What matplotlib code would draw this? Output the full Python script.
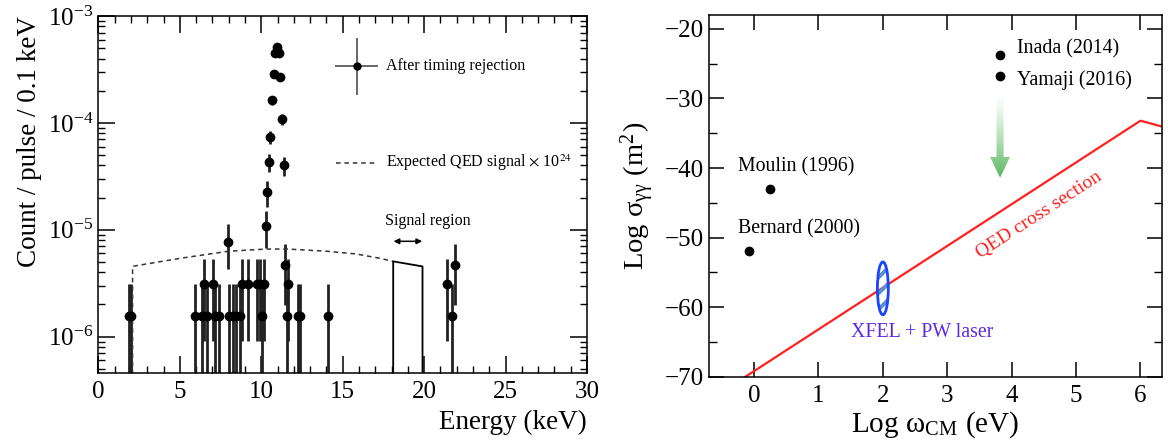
"""Two-panel figure: energy spectrum after timing rejection and photon-photon cross section summary."""
import numpy as np
import matplotlib
matplotlib.use("Agg")
import matplotlib.pyplot as plt
from matplotlib.patches import Ellipse, Polygon
from matplotlib.ticker import LogLocator, MultipleLocator, NullFormatter

plt.rcParams['font.family'] = ['Liberation Serif', 'DejaVu Serif']
plt.rcParams['mathtext.fontset'] = 'stix'
plt.rcParams['axes.linewidth'] = 1.1

# ---------------- left panel data ----------------
UNIT = 1.55e-6  # one count / pulse / 0.1 keV

low_energy = [1.90, 2.00, 5.96, 6.36, 6.69, 7.17, 7.41, 8.04, 8.25, 8.48, 8.70,
              10.04, 11.58, 12.24, 12.38, 14.12, 21.73,
              6.48, 7.06, 8.84, 9.19, 9.74, 9.95, 10.17, 11.67, 21.43,
              11.45, 21.87,
              7.98]
low_counts = [1, 1, 1, 1, 1, 1, 1, 1, 1, 1, 1,
              1, 1, 1, 1, 1, 1,
              2, 2, 2, 2, 2, 2, 2, 2, 2,
              3, 3,
              5]

peak_energy = [10.29, 10.37, 10.47, 10.55, 10.66, 10.76, 10.82, 10.96, 11.10, 11.17, 11.27, 11.37]
peak_value = [1.09e-5, 2.24e-5, 4.30e-5, 7.36e-5, 1.62e-4, 2.87e-4, 4.49e-4, 5.17e-4,
              4.49e-4, 2.69e-4, 1.09e-4, 4.0e-5]

# expected QED signal (x 1e24): dashed outside, solid inside the signal region
qed_energy = [2.1, 2.1, 5.0, 8.0, 10.3, 11.6, 14.0, 15.85, 17.3, 18.1]
qed_value = [1e-8, 4.55e-6, 5.4e-6, 6.3e-6, 6.6e-6, 6.6e-6, 6.3e-6, 5.93e-6, 5.4e-6, 5.06e-6]
sig_energy = [18.1, 18.1, 19.9, 19.9]
sig_value = [1e-8, 5.06e-6, 4.54e-6, 1e-8]

# ---------------- right panel data ----------------
meas_names = ["Moulin (1996)", "Bernard (2000)", "Inada (2014)", "Yamaji (2016)"]
meas_x = [0.25, -0.08, 3.82, 3.82]
meas_y = [-43.0, -51.9, -23.7, -26.7]

qed_logw = [-0.2, 6.0, 6.4]
qed_logsig = [-70.4, -33.2, -34.2]

xfel_center = (2.0, -57.3)
xfel_size = (0.17, 7.6)


def style_ticks(ax):
    ax.tick_params(which='both', direction='in', top=True, right=True)
    ax.tick_params(which='major', length=10, width=1.1)
    ax.tick_params(which='minor', length=5, width=1.0)


def main():
    fig = plt.figure(figsize=(11.68, 4.41), dpi=100)
    ax1 = fig.add_axes([0.0842, 0.1549, 0.4184, 0.8088])
    ax2 = fig.add_axes([0.607, 0.1458, 0.3876, 0.8202])

    # ---- left: spectrum ----
    vals = np.array(low_counts) * UNIT
    errs = np.sqrt(np.array(low_counts)) * UNIT
    lo = np.minimum(errs, vals * 0.9999)
    ax1.errorbar(low_energy, vals, yerr=[lo, errs], fmt='o', color='black',
                 ecolor='#222222', elinewidth=2.0, markersize=6, capsize=0)
    pv = np.array(peak_value)
    perr = np.sqrt(pv / UNIT) * UNIT
    ax1.errorbar(peak_energy, pv, yerr=perr, fmt='o', color='black',
                 ecolor='#222222', elinewidth=2.0, markersize=6, capsize=0)

    ax1.plot(qed_energy, qed_value, ls=(0, (3, 2.5)), color='#333333', lw=1.1)
    ax1.plot(sig_energy, sig_value, color='black', lw=1.3)

    ax1.annotate('', xy=(17.95, 7.8e-6), xytext=(20.05, 7.8e-6),
                 arrowprops=dict(arrowstyle='<|-|>', color='black', lw=1.1,
                                 mutation_scale=8))
    ax1.text(20.2, 1.2e-5, "Signal region", ha='center', va='center', fontsize=11.5)

    ax1.set_yscale('log')
    ax1.set_xlim(0, 30)
    ax1.set_ylim(4.6e-7, 1e-3)
    ax1.xaxis.set_major_locator(MultipleLocator(5))
    ax1.xaxis.set_minor_locator(MultipleLocator(1))
    ax1.yaxis.set_major_locator(LogLocator(base=10, numticks=10))
    ax1.yaxis.set_minor_locator(LogLocator(base=10, subs=np.arange(2, 10), numticks=20))
    ax1.yaxis.set_minor_formatter(NullFormatter())
    style_ticks(ax1)
    ax1.tick_params(which='major', labelsize=18, length=12)
    ax1.tick_params(axis='x', which='major', pad=6)
    ax1.set_xlabel("Energy (keV)", fontsize=19.5, loc='right', labelpad=5)
    ax1.set_ylabel("Count / pulse / 0.1 keV", fontsize=19.5, loc='top', labelpad=4)

    # legend drawn by hand, ROOT-like
    tr = ax1.transAxes
    ax1.plot([0.487, 0.571], [0.860, 0.860], color='#666666', lw=1.4, transform=tr)
    ax1.plot([0.529, 0.529], [0.781, 0.936], color='#666666', lw=1.4, transform=tr)
    ax1.plot([0.529], [0.860], 'o', color='black', markersize=5, transform=tr)
    ax1.text(0.589, 0.860, "After timing rejection", transform=tr, fontsize=11.5, va='center')
    ax1.plot([0.487, 0.571], [0.589, 0.589], ls=(0, (3, 2.5)), color='#333333', lw=1.1, transform=tr)
    ax1.text(0.589, 0.589, r"Expected QED signal $\times$ 10$^{24}$", transform=tr,
             fontsize=11.5, va='center')

    # ---- right: cross section ----
    ax2.set_xlim(-0.7, 6.33)
    ax2.set_ylim(-70, -18)

    ax2.plot(qed_logw, qed_logsig, color='#ff2020', lw=1.6)
    ax2.text(4.42, -46.7, "QED cross section", color='#ff2020', fontsize=14,
             rotation=33, ha='center', va='center')

    ax2.plot(meas_x, meas_y, 'o', color='black', markersize=6)
    ax2.text(-0.25, -39.9, meas_names[0], fontsize=14.3, va='center')
    ax2.text(-0.25, -48.8, meas_names[1], fontsize=14.3, va='center')
    ax2.text(4.08, -22.9, meas_names[2], fontsize=14.3, va='center')
    ax2.text(4.08, -27.3, meas_names[3], fontsize=14.3, va='center')

    # hatched XFEL ellipse: stripes clipped to the ellipse, then the outline
    clip = Ellipse(xfel_center, width=xfel_size[0], height=xfel_size[1],
                   facecolor='none', edgecolor='none')
    ax2.add_patch(clip)
    cx, cy = xfel_center
    for y0 in np.arange(cy - 7.0, cy + 7.5, 2.3):
        ln, = ax2.plot([cx - 0.2, cx + 0.2], [y0 - 1.85, y0 + 1.85],
                       color='#5b8fd0', lw=2.8, solid_capstyle='butt', zorder=2.5)
        ln.set_clip_path(clip)
    ax2.add_patch(Ellipse(xfel_center, width=xfel_size[0], height=xfel_size[1],
                          facecolor='none', edgecolor='#1a44ff', lw=2.0, zorder=3))
    ax2.text(2.61, -63.7, "XFEL + PW laser", color='#5a2ae6', fontsize=14.3,
             ha='center', va='center')

    # green gradient arrow pointing down
    ax_, hw, sw = 3.82, 0.155, 0.055
    top, base, tip = -29.2, -38.4, -41.4
    arrow = Polygon([(ax_ - sw, top), (ax_ + sw, top), (ax_ + sw, base), (ax_ + hw, base),
                     (ax_, tip), (ax_ - hw, base), (ax_ - sw, base)],
                    closed=True, transform=ax2.transData, facecolor='none', edgecolor='none')
    ax2.add_patch(arrow)
    grad = np.zeros((120, 1, 4))
    grad[:, 0, 0] = 0.30
    grad[:, 0, 1] = 0.70
    grad[:, 0, 2] = 0.32
    grad[:, 0, 3] = np.linspace(0.0, 0.95, 120) ** 1.3
    im = ax2.imshow(grad, extent=[ax_ - hw, ax_ + hw, tip, top], origin='upper',
                    aspect='auto', interpolation='bilinear', zorder=3)
    im.set_clip_path(arrow)
    ax2.set_xlim(-0.7, 6.33)
    ax2.set_ylim(-70, -18)
    ax2.set_aspect('auto')

    ax2.xaxis.set_major_locator(MultipleLocator(1))
    ax2.yaxis.set_major_locator(MultipleLocator(10))
    ax2.yaxis.set_minor_locator(MultipleLocator(5))
    style_ticks(ax2)
    ax2.tick_params(which='major', labelsize=18, length=11)
    ax2.tick_params(which='minor', length=6)
    ax2.tick_params(axis='x', which='major', pad=6)
    ax2.set_xlabel(r"Log ω$_{\mathregular{CM}}$ (eV)", fontsize=21, labelpad=2)
    ax2.set_ylabel(r"Log σ$_{\mathregular{γγ}}$ (m$^{\mathregular{2}}$)", fontsize=20.5, labelpad=6)

    fig.savefig("out.png", dpi=100)
    plt.close(fig)


if __name__ == '__main__':
    main()
